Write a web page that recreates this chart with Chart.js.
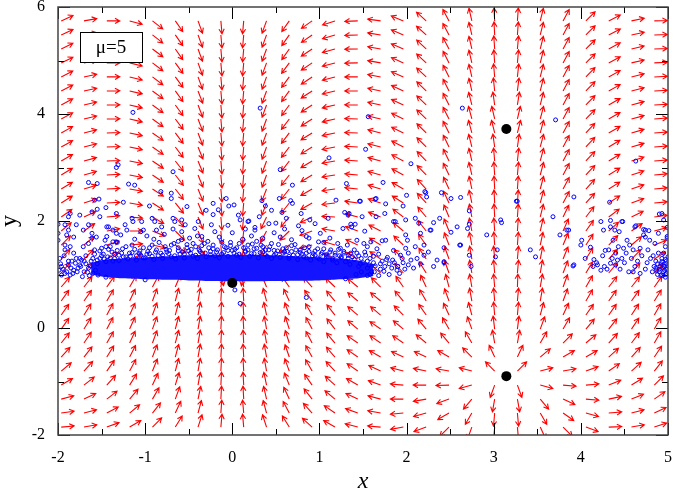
<!DOCTYPE html>
<html>
<head>
<meta charset="utf-8">
<script src="https://cdn.jsdelivr.net/npm/chart.js@4.4.1/dist/chart.umd.min.js"></script>
<style>
  html, body { margin: 0; padding: 0; background: #fff; }
  #wrap { width: 674px; height: 491px; }
</style>
</head>
<body>
<div id="wrap"><canvas id="campo" width="674" height="491"></canvas></div>
<script>
// eixos
const xTicks = [-2, -1, 0, 1, 2, 3, 4, 5];
const xMinor = [-1.5, -0.5, 0.5, 1.5, 2.5, 3.5, 4.5];
const yTicks = [-2, 0, 2, 4, 6];
const yMinor = [-1, 1, 3, 5];
const rotulo = 'μ=5';

// grade do campo de direções (origem de cada seta)
const arrowX = [-1.963, -1.702, -1.440, -1.178, -0.916, -0.654, -0.393, -0.131, 0.131, 0.393, 0.654, 0.916, 1.178,
                1.440, 1.702, 1.963, 2.225, 2.487, 2.749, 3.011, 3.272, 3.534, 3.796, 4.058, 4.320, 4.581, 4.843];
const arrowY = [5.740, 5.478, 5.216, 4.955, 4.693, 4.431, 4.169, 3.907, 3.646, 3.384, 3.122, 2.860, 2.598, 2.337, 2.075,
                1.813, 1.551, 1.289, 1.028, 0.766, 0.504, 0.242, -0.020, -0.281, -0.543, -0.805, -1.067, -1.329, -1.590, -1.852];
// ângulo de cada seta em graus (0 = direita, 90 = cima), uma linha por arrowY
const arrowAngle = [
  [25,10,0,-15,-38,-55,-70,-85,-95,-110,-125,-145,-162,-178,172,158,138,118,103,93,86,76,62,45,27,12,2],
  [25,10,0,-15,-38,-55,-70,-85,-95,-110,-125,-145,-163,-178,171,157,138,118,103,93,86,76,62,45,27,12,2],
  [26,11,0,-14,-37,-55,-70,-85,-95,-110,-125,-146,-164,-179,170,157,137,118,103,94,85,76,62,45,28,13,2],
  [26,11,0,-14,-37,-54,-70,-85,-95,-110,-126,-146,-165,-179,170,156,137,117,103,94,85,76,62,45,28,13,3],
  [27,12,1,-14,-37,-54,-70,-85,-95,-110,-126,-146,-165,180,169,156,137,117,103,95,84,76,62,46,29,14,3],
  [27,12,1,-13,-36,-54,-69,-85,-95,-110,-126,-147,-166,180,168,155,136,117,103,96,83,76,62,46,29,14,3],
  [28,13,1,-13,-36,-54,-69,-85,-95,-110,-126,-147,-167,179,168,155,136,117,104,98,81,76,62,46,30,15,3],
  [28,13,1,-13,-36,-53,-69,-85,-95,-110,-127,-147,-167,178,167,154,136,117,105,103,77,75,62,46,30,15,4],
  [29,14,2,-12,-35,-53,-69,-85,-95,-110,-127,-148,-168,178,166,154,135,117,105,104,76,75,62,47,30,16,4],
  [29,14,2,-12,-35,-53,-68,-85,-95,-110,-127,-148,-169,177,166,153,135,116,104,98,82,75,62,47,31,16,4],
  [30,15,2,-11,-34,-52,-68,-85,-95,-110,-127,-149,-170,176,165,152,134,116,103,95,84,75,62,47,31,17,4],
  [31,16,3,-11,-34,-52,-68,-85,-95,-110,-128,-149,-171,175,164,151,134,116,103,94,85,75,62,47,32,18,5],
  [31,17,3,-10,-33,-52,-68,-85,-95,-111,-128,-150,-172,174,163,150,133,115,102,93,86,75,62,48,32,19,5],
  [32,18,3,-10,-33,-51,-67,-85,-95,-111,-128,-150,-173,172,162,148,133,115,102,93,86,75,62,48,33,20,5],
  [35,25,5,-5,-30,-50,-68,-85,-96,-115,-130,-155,177,165,158,143,130,113,101,93,86,76,64,52,37,26,8],
  [40,35,10,0,-22,-45,-68,-86,-96,-118,-135,-160,170,160,153,140,128,112,101,94,86,77,66,55,42,35,15],
  [45,40,18,5,-12,-35,-60,-86,-97,-120,-140,-165,163,155,148,137,126,111,101,94,86,78,67,57,46,40,22],
  [48,45,30,20,5,-15,-40,-84,-97,-130,-150,-175,155,150,145,135,124,110,100,95,85,79,68,58,48,45,32],
  [50,50,45,40,30,20,-5,-78,-100,-150,-170,165,145,142,140,132,122,110,100,95,85,80,69,59,50,50,45],
  [50,52,55,60,62,67,75,82,97,112,125,132,136,140,135,125,115,105,100,95,88,80,70,60,52,52,55],
  [55,55,60,65,70,75,80,87,93,105,115,125,130,140,140,130,120,110,100,95,85,80,70,60,55,55,58],
  [55,58,62,66,70,75,80,87,93,102,110,120,128,140,140,135,125,115,105,95,85,75,65,55,55,57,60],
  [55,58,62,66,70,75,80,87,93,100,108,118,128,140,145,140,130,120,110,97,83,70,60,50,52,56,60],
  [52,56,60,65,70,75,80,87,93,100,108,118,130,145,145,145,140,130,120,100,80,60,45,40,48,53,60],
  [48,52,58,63,69,75,80,87,93,100,109,119,131,145,150,155,155,150,135,115,65,40,30,30,42,48,56],
  [40,48,55,62,68,75,80,87,93,100,110,120,133,145,155,165,168,170,165,135,45,15,10,20,35,42,52],
  [30,38,48,58,65,73,80,87,93,102,112,125,138,150,160,175,180,-178,-165,-110,-70,-15,-5,5,22,32,45],
  [15,25,38,50,60,70,78,87,93,103,115,128,140,155,165,-180,-170,-160,-130,-100,-80,-50,-25,-5,12,22,35],
  [8,15,28,40,52,65,75,86,95,105,118,132,145,160,170,-175,-165,-150,-120,-95,-85,-60,-35,-15,5,15,25],
  [5,10,20,30,45,58,72,85,95,108,122,138,150,165,175,-170,-160,-135,-110,-95,-85,-65,-45,-20,2,10,18]
];

// faixa densa de pontos em torno de y ~ 1 (contorno)
const bandX      = [-1.62, -1.45, -1.25, -1.0, -0.75, -0.5, -0.25, 0, 0.25, 0.5, 0.75, 1.0, 1.25, 1.45, 1.62];
const bandTop    = [1.22, 1.28, 1.30, 1.32, 1.34, 1.36, 1.37, 1.37, 1.37, 1.36, 1.34, 1.32, 1.30, 1.26, 1.18];
const bandBottom = [1.00, 0.95, 0.93, 0.91, 0.90, 0.89, 0.88, 0.875, 0.875, 0.88, 0.885, 0.89, 0.91, 0.93, 0.97];

// pontos esparsos (x, y)
const cloud = [
  [-1.14,4.03],[0.32,4.11],[-1.33,3.00],[-1.31,3.05],[-0.68,2.92],[1.11,3.18],[0.55,2.96],[-1.65,2.72],[-1.55,2.70],
  [-1.19,2.69],[-1.12,2.67],[-0.82,2.55],[-0.70,2.52],[-0.70,2.42],[0.69,2.67],[2.64,4.11],[1.56,3.95],[3.71,3.89],
  [1.53,3.34],[2.05,3.07],[4.63,3.12],[1.31,2.70],[1.73,2.72],[1.19,2.39],[1.65,2.42],[1.76,2.32],[1.47,2.37],
  [2.00,2.48],[2.22,2.53],[2.23,2.45],[2.40,2.53],[2.51,2.42],[2.62,2.44],[3.26,2.37],[3.92,2.45],[4.33,2.35],
  [2.72,2.19],[3.08,2.02],[3.09,1.97],[3.68,2.08],
  [1.75,2.14],[1.65,2.08],[1.49,2.08],[1.34,2.14],[1.27,1.86],[1.36,1.94],[1.41,1.94],[1.87,1.99],[1.99,2.02],
  [2.10,2.05],[2.14,1.96],[2.28,1.83],[2.31,1.97],[2.38,2.05],[2.51,1.79],[2.58,1.89],[2.72,1.94],[2.70,1.86],
  [2.92,1.74],[3.76,1.74],[3.84,1.83],[4.01,1.64],[4.11,1.51],[4.23,1.99],[4.34,2.01],[4.48,1.99],[4.34,1.89],
  [4.44,1.80],[4.63,1.91],[4.72,1.84],[4.78,1.82],[4.74,1.70],[4.90,2.13],[4.95,2.02],[4.99,1.88],[4.99,1.71],
  [1.21,1.58],[1.24,1.49],[1.32,1.55],[1.43,1.64],[1.51,1.58],[1.55,1.52],[1.59,1.61],[1.72,1.63],[1.76,1.64],
  [1.99,1.74],[2.01,1.64],[2.10,1.52],[2.16,1.77],[2.20,1.55],
  [1.63,1.05],[1.75,1.15],[1.84,1.27],[1.89,1.08],[1.93,1.36],[2.05,1.27],[1.99,1.49],[2.16,1.20],[2.20,1.36],
  [2.31,1.15],[2.35,1.27],[2.43,1.24],[2.62,1.55],[2.72,1.36],[2.74,1.15],[3.02,1.33],[3.04,1.46],[3.42,1.46],
  [3.48,1.33],[3.92,1.18],[4.00,1.55],[2.61,1.55],[2.43,1.50],[2.43,1.22],[3.27,2.37],[3.86,1.83],[3.91,1.16],
  [1.45,1.35],[1.52,1.42],[1.58,1.30],[1.62,1.22],[1.68,1.38],[1.70,1.10],[1.78,1.32],[1.80,1.20],[1.85,1.45],
  [1.90,1.15],[1.96,1.22],[2.02,1.40],[2.08,1.12],[1.47,1.20],[1.55,1.12],[1.66,1.48],[1.72,1.25],[1.40,1.46],
  [1.48,1.05],[1.36,1.40],[1.42,1.00],[1.58,1.00],[1.28,1.40],[1.25,1.33],[1.33,1.30],[1.55,1.25],[2.25,1.42],
  [2.12,1.30],
  [1.60,1.05],[1.64,1.16],[1.68,0.98],[1.70,1.20],[1.74,1.06],[1.77,1.28],[1.80,1.00],[1.83,1.12],[1.86,1.22],
  [1.92,1.02],[1.95,1.30],[1.98,1.10],[2.02,1.18],[1.62,1.34],[1.57,1.18],
  [4.19,1.18],[4.23,1.08],[4.27,1.15],[4.34,1.21],[4.40,1.18],[4.42,1.27],[4.14,1.15],[4.26,1.83],[4.32,1.46],
  [4.37,1.64],[4.39,1.83],[4.47,1.99],[4.43,1.52],[4.49,1.49],[4.53,1.64],[4.56,1.55],[4.60,1.46],[4.62,1.89],
  [4.68,1.49],[4.72,1.74],[4.74,1.83],[4.77,1.46],[4.79,1.64],[4.85,1.58],[4.89,1.77],[4.93,2.14],[4.97,1.52],
  [4.99,1.68],[5.00,1.33],
  [4.05,1.30],[4.15,1.28],[4.18,1.22],[4.25,1.35],[4.30,1.10],[4.36,1.30],[4.45,1.10],[4.50,1.22],[4.55,1.05],
  [4.58,1.30],[4.62,1.15],[4.65,1.25],[4.68,1.02],[4.70,1.35],[4.74,1.10],[4.76,1.22],[4.80,1.30],[4.82,1.05],
  [4.84,1.15],[4.86,1.25],[4.88,1.00],[4.90,1.10],[4.92,1.20],[4.93,1.30],[4.95,1.05],[4.96,1.15],[4.97,1.00],
  [4.98,1.25],[4.99,1.10],[4.94,0.98],[4.91,1.15],[4.87,1.08],[4.89,1.40],[4.95,1.40],[4.98,1.20],[4.83,1.35],
  [4.97,0.95],[4.52,1.40],[4.40,1.40],[4.60,1.05],[4.28,1.45],[4.47,1.30],
  [4.86,1.12],[4.88,1.20],[4.90,1.05],[4.92,0.99],[4.94,1.12],[4.96,1.08],[4.98,1.02],[4.99,1.16],[4.93,1.24],
  [4.97,1.28],
  [-1.58,2.39],[-1.53,2.41],[-1.61,2.17],[-1.55,2.22],[-1.75,2.11],[-1.79,1.93],[-1.86,2.14],[-1.88,1.83],
  [-2.00,1.94],[-2.00,1.77],[-1.82,1.70],[-1.71,1.83],[-1.61,1.77],[-1.56,1.70],[-1.65,1.58],[-1.71,1.52],
  [-1.42,1.89],[-1.37,1.83],[-1.33,1.77],[-1.46,1.64],[-1.40,1.52],[-1.33,1.61],[-1.96,0.99],[-1.92,1.02],
  [-1.86,0.99],[-1.77,1.12],[-1.80,1.21],[-1.82,1.40],[-1.92,1.46],[-2.00,1.64],[-1.90,1.74],[-1.92,1.55],
  [-1.86,1.52],[-1.96,1.15],[-1.88,1.18],[-1.75,1.18],[-1.73,1.27],[-1.61,1.68],[-1.58,1.46],[-1.50,1.49],
  [-1.44,1.71],[-1.37,1.61],[-1.70,1.05],[-1.65,1.12],[-1.62,1.25],[-1.68,1.35],[-1.60,1.02],[-1.55,1.20],
  [-1.58,1.38],[-1.64,0.98],[-1.72,0.96],
  [-1.78,1.05],[-1.74,1.15],[-1.70,1.25],[-1.66,1.04],[-1.63,1.16],[-1.60,1.30],[-1.57,1.08],[-1.54,0.99],
  [-1.68,1.20],[-1.75,1.30],[-1.82,1.08],[-1.84,1.25],
  [-1.99,1.08],[-1.97,1.20],[-1.94,1.10],[-1.90,1.05],[-1.88,1.25],[-1.85,1.12],[-1.83,1.02],[-1.79,1.30],
  [-1.98,1.30],[-1.93,1.35],
  [-0.52,2.27],[-0.22,2.33],[-0.07,2.42],[-0.04,2.28],[-0.16,2.21],[-0.22,2.12],[-0.24,1.93],[-0.39,1.99],
  [-0.35,1.71],[-0.49,1.68],[0.07,2.11],[0.09,2.02],[0.18,1.99],[0.26,1.83],[-1.88,2.08],[-1.92,1.93],
  [-1.65,1.93],[-1.52,2.08],[-1.44,1.89],[-1.33,2.14],[-1.23,1.93],[-1.21,1.83],[-1.15,2.05],[-1.14,1.99],
  [-1.04,1.99],[-1.02,1.83],[-0.92,2.05],[-0.89,1.99],[-0.87,1.83],[-0.81,1.89],[-0.68,2.05],[-0.66,1.99],
  [-0.58,2.02],[-0.54,1.93],[-0.58,1.80],[-0.43,1.86],
  [0.54,2.42],[0.34,2.38],[0.38,2.28],[0.67,2.38],[0.69,2.33],[0.57,2.16],[0.79,2.14],[0.89,2.02],[0.76,1.91],
  [0.50,1.96],[0.31,2.08],[0.26,1.88],[0.19,2.00],[1.46,2.37],[1.64,2.41],[1.96,2.28],[2.21,2.55],[2.27,1.83],
  [1.85,1.99],[1.52,1.81],[1.29,2.16],[1.33,2.11],[1.37,1.89],[1.12,1.68],[1.01,1.77],[0.85,1.71],[0.99,1.61],
  [0.45,2.20],[0.62,2.05],[0.95,1.95],[1.10,2.05],[0.02,2.30],[-0.30,2.20],[-0.95,2.28],[-1.25,2.35],[-1.45,2.25],
  [-1.52,1.30],[-1.48,1.38],[-1.43,1.33],[-1.38,1.42],[-1.35,1.30],[-1.30,1.36],[-1.26,1.48],[-1.22,1.33],
  [-1.18,1.40],[-1.15,1.55],[-1.10,1.35],[-1.06,1.44],[-1.02,1.31],[-0.98,1.38],[-0.95,1.50],[-0.92,1.34],
  [-0.88,1.42],[-0.84,1.60],[-0.80,1.36],[-0.76,1.47],[-0.73,1.39],[-0.70,1.55],[-0.66,1.35],[-0.62,1.44],
  [-0.58,1.65],[-0.55,1.38],[-0.52,1.50],[-0.48,1.40],[-0.45,1.58],[-0.42,1.36],[-0.38,1.46],[-0.35,1.54],
  [-0.31,1.40],[-0.28,1.62],[-0.25,1.37],[-0.22,1.48],[-0.18,1.42],[-0.15,1.70],[-0.12,1.38],[-0.09,1.52],
  [-0.05,1.45],[-0.02,1.60],[0.02,1.40],[0.05,1.50],[0.08,1.38],[0.12,1.66],[0.15,1.44],[0.18,1.55],
  [0.22,1.39],[0.25,1.48],[0.28,1.62],[0.32,1.41],[0.35,1.52],[0.38,1.37],[0.42,1.46],[0.45,1.58],
  [0.48,1.36],[0.52,1.44],[0.55,1.70],[0.58,1.40],[0.62,1.50],[0.65,1.34],[0.68,1.43],[0.72,1.56],
  [0.75,1.37],[0.78,1.46],[0.82,1.33],[0.85,1.40],[0.88,1.52],[0.92,1.35],[0.95,1.44],[0.98,1.31],
  [1.02,1.38],[1.05,1.48],[1.08,1.33],[1.12,1.42],[1.15,1.30],[1.18,1.36],[1.22,1.47],[-1.45,1.52],
  [-1.32,1.60],[-1.12,1.66],[-0.98,1.72],[-0.78,1.75],[-0.62,1.62],[-0.40,1.72],[-0.20,1.80],[0.00,1.78],
  [0.15,1.85],[0.35,1.68],[0.48,1.78],[0.68,1.65],[0.88,1.68],[1.05,1.60],[-1.28,1.74],[-0.90,1.66],
  [0.60,1.85],[-0.05,1.92],[-0.68,1.85],[-1.05,1.80],[0.80,1.82],[0.42,1.95],[0.22,1.72],
  [-1.55,1.27],[-1.50,1.35],[-1.45,1.24],[-1.40,1.31],[-1.35,1.38],[-1.30,1.26],[-1.25,1.33],[-1.20,1.29],
  [-1.15,1.41],[-1.10,1.27],[-1.05,1.36],[-1.00,1.31],[-0.95,1.39],[-0.90,1.28],[-0.85,1.35],[-0.80,1.30],
  [-0.75,1.42],[-0.70,1.33],[-0.65,1.29],[-0.60,1.38],[-0.55,1.31],[-0.50,1.44],[-0.45,1.34],[-0.40,1.30],
  [-0.35,1.40],[-0.30,1.33],[-0.25,1.43],[-0.20,1.35],[-0.15,1.31],[-0.10,1.41],[-0.05,1.34],[0.00,1.45],
  [0.05,1.36],[0.10,1.32],[0.15,1.42],[0.20,1.34],[0.25,1.39],[0.30,1.31],[0.35,1.43],[0.40,1.34],
  [0.45,1.30],[0.50,1.39],[0.55,1.32],[0.60,1.42],[0.65,1.30],[0.70,1.36],[0.75,1.28],[0.80,1.38],
  [0.85,1.31],[0.90,1.27],[0.95,1.36],[1.00,1.29],[1.05,1.24],[1.10,1.34],[1.15,1.27],[1.20,1.22],
  [1.25,1.31],[1.30,1.24],[1.35,1.19],[1.40,1.28],[1.45,1.15],[1.50,1.22],
  [-1.52,1.44],[-1.47,1.29],[-1.42,1.47],[-1.37,1.25],[-1.32,1.45],[-1.27,1.40],[-1.22,1.52],[-1.17,1.34],
  [-1.12,1.47],[-1.07,1.40],[-1.02,1.50],[-0.97,1.43],[-0.92,1.55],[-0.87,1.46],[-0.82,1.40],[-0.77,1.52],
  [-0.72,1.45],[-0.67,1.58],[-0.62,1.50],[-0.57,1.42],[-0.52,1.56],[-0.47,1.47],[-0.42,1.52],[-0.37,1.43],
  [-0.32,1.58],[-0.27,1.50],[-0.22,1.55],[-0.17,1.46],[-0.12,1.60],[-0.07,1.50],[-0.02,1.54],[0.03,1.47],
  [0.08,1.58],[0.13,1.50],[0.18,1.46],[0.23,1.57],[0.28,1.49],[0.33,1.55],[0.38,1.46],[0.43,1.52],
  [0.48,1.45],[0.53,1.56],[0.58,1.48],[0.63,1.43],[0.68,1.54],[0.73,1.46],[0.78,1.41],[0.83,1.50],
  [0.88,1.43],[0.93,1.39],[0.98,1.48],[1.03,1.41],[1.08,1.37],[1.13,1.46],[1.18,1.40],[1.23,1.35],
  [1.28,1.43],[1.33,1.36],[1.38,1.33],[1.43,1.40],[1.48,1.30],[1.53,1.36],
  [-1.45,0.95],[-1.00,0.90],[1.30,0.92],[1.55,0.98],[0.03,0.71],[0.09,0.46],[0.85,0.57]
];

// pontos fixos (círculos pretos)
const fixedPoints = [[0.0, 0.84], [3.145, 3.72], [3.145, -0.9]];

const toXY = (xs, ys) => xs.map((v, i) => ({ x: v, y: ys[i] }));
const FONTE = '"Liberation Serif", "Times New Roman", serif';

// setas vermelhas do campo: cada seta parte do ponto da grade
const setas = {
  id: 'setas',
  beforeDatasetsDraw(chart) {
    const { ctx, chartArea: a, scales: { x, y } } = chart;
    ctx.save();
    ctx.beginPath();
    ctx.rect(a.left, a.top, a.width, a.height);
    ctx.clip();
    ctx.strokeStyle = '#ff0000';
    ctx.lineWidth = 1.1;
    const L = 13, H = 5.5, A = 0.5;
    arrowY.forEach((yv, j) => {
      arrowX.forEach((xv, i) => {
        const ang = arrowAngle[j][i] * Math.PI / 180;
        const x1 = x.getPixelForValue(xv), y1 = y.getPixelForValue(yv);
        const dx = Math.cos(ang), dy = -Math.sin(ang);
        const x2 = x1 + dx * L, y2 = y1 + dy * L;
        const b = Math.atan2(dy, dx);
        ctx.beginPath();
        ctx.moveTo(x1, y1);
        ctx.lineTo(x2, y2);
        ctx.moveTo(x2 - H * Math.cos(b - A), y2 - H * Math.sin(b - A));
        ctx.lineTo(x2, y2);
        ctx.lineTo(x2 - H * Math.cos(b + A), y2 - H * Math.sin(b + A));
        ctx.stroke();
      });
    });
    ctx.restore();
  }
};

// moldura, marcas para dentro e caixa do rótulo
const moldura = {
  id: 'moldura',
  afterDraw(chart) {
    const { ctx, chartArea: a, scales: { x, y } } = chart;
    ctx.save();
    ctx.strokeStyle = '#000';
    ctx.lineWidth = 1;
    ctx.beginPath();
    const marca = (px, py, dx, dy) => { ctx.moveTo(px, py); ctx.lineTo(px + dx, py + dy); };
    xTicks.forEach(v => { const p = Math.round(x.getPixelForValue(v)) + 0.5; marca(p, a.bottom, 0, -12); marca(p, a.top, 0, 12); });
    xMinor.forEach(v => { const p = Math.round(x.getPixelForValue(v)) + 0.5; marca(p, a.bottom, 0, -6); marca(p, a.top, 0, 6); });
    yTicks.forEach(v => { const p = Math.round(y.getPixelForValue(v)) + 0.5; marca(a.left, p, 12, 0); marca(a.right, p, -12, 0); });
    yMinor.forEach(v => { const p = Math.round(y.getPixelForValue(v)) + 0.5; marca(a.left, p, 6, 0); marca(a.right, p, -6, 0); });
    ctx.stroke();
    ctx.strokeStyle = '#444';
    ctx.lineWidth = 1.5;
    ctx.strokeRect(a.left, a.top, a.right - a.left, a.bottom - a.top);

    // caixa "μ=5"
    const bx = a.left + 22, by = a.top + 25, bw = 62, bh = 30;
    ctx.fillStyle = '#fff';
    ctx.fillRect(bx, by, bw, bh);
    ctx.strokeStyle = '#000';
    ctx.lineWidth = 1;
    ctx.strokeRect(bx + 0.5, by + 0.5, bw, bh);
    ctx.fillStyle = '#000';
    ctx.font = '19px ' + FONTE;
    ctx.textAlign = 'center';
    ctx.textBaseline = 'middle';
    ctx.fillText(rotulo, bx + bw / 2, by + bh / 2 + 1);
    ctx.restore();
  }
};

Chart.defaults.font.family = FONTE;
Chart.defaults.color = '#000';

new Chart(document.getElementById('campo'), {
  type: 'scatter',
  data: {
    datasets: [
      {
        type: 'line',
        data: toXY(bandX, bandTop),
        borderWidth: 0,
        pointRadius: 0,
        tension: 0.2,
        fill: false,
        order: 4
      },
      {
        type: 'line',
        data: toXY(bandX, bandBottom),
        borderWidth: 0,
        pointRadius: 0,
        tension: 0.2,
        backgroundColor: '#1414ff',
        fill: '-1',
        order: 3
      },
      {
        data: cloud.map(p => ({ x: p[0], y: p[1] })),
        pointRadius: 2,
        borderWidth: 1,
        borderColor: '#0000ff',
        backgroundColor: 'rgba(255,255,255,0)',
        order: 1
      },
      {
        data: fixedPoints.map(p => ({ x: p[0], y: p[1] })),
        pointRadius: 5,
        borderWidth: 0,
        backgroundColor: '#000',
        order: 0
      }
    ]
  },
  options: {
    responsive: false,
    animation: false,
    events: [],
    layout: { padding: { top: 7, right: 6, left: 0, bottom: 0 } },
    plugins: { legend: { display: false }, tooltip: { enabled: false } },
    scales: {
      x: {
        type: 'linear', min: -2, max: 5,
        afterBuildTicks: s => { s.ticks = xTicks.map(v => ({ value: v })); },
        afterFit: s => { s.height = 56; s.paddingLeft = 0; s.paddingRight = 0; },
        grid: { display: false },
        border: { display: false },
        ticks: { font: { size: 16 }, padding: 5, maxRotation: 0, autoSkip: false },
        title: { display: true, text: 'x', font: { size: 24, style: 'italic', lineHeight: 0.75 }, padding: { top: 0, bottom: 0 } }
      },
      y: {
        type: 'linear', min: -2, max: 6,
        afterBuildTicks: s => { s.ticks = yTicks.map(v => ({ value: v })); },
        afterFit: s => { s.width = 58; s.paddingTop = 0; s.paddingBottom = 0; },
        grid: { display: false },
        border: { display: false },
        ticks: { font: { size: 16 }, padding: 5, autoSkip: false },
        title: { display: true, text: 'y', font: { size: 24, lineHeight: 0.8 }, padding: { top: 0, bottom: 0 } }
      }
    }
  },
  plugins: [setas, moldura]
});
</script>
</body>
</html>
